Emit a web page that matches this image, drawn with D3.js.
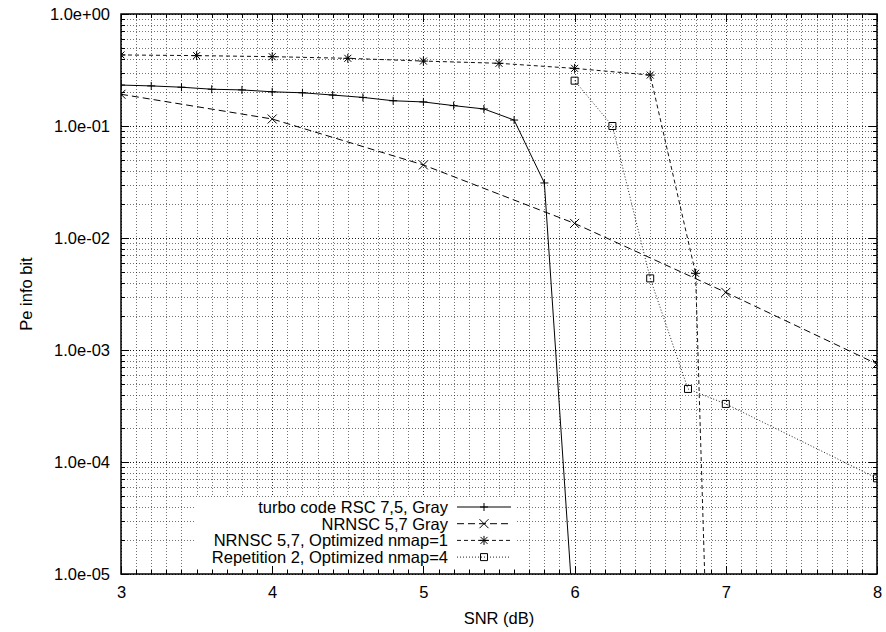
<!DOCTYPE html>
<html><head><meta charset="utf-8">
<script src="https://cdn.jsdelivr.net/npm/d3@7/dist/d3.min.js"></script>
<style>
body{margin:0;background:#fff}
svg{display:block}
text{font-family:"Liberation Sans",Arial,Helvetica,sans-serif;fill:#000}
</style>
</head><body>
<svg id="chart" width="886" height="632"></svg>
<script>
// ---- data ----
const seriesNames = [
  "turbo code RSC 7,5, Gray",
  "NRNSC 5,7 Gray",
  "NRNSC 5,7, Optimized nmap=1",
  "Repetition 2, Optimized nmap=4"
];
const snrTurbo = [3.0,3.2,3.4,3.6,3.8,4.0,4.2,4.4,4.6,4.8,5.0,5.2,5.4,5.6,5.8,6.0];
const peTurbo  = [0.232,0.228,0.222,0.213,0.210,0.202,0.198,0.189,0.180,0.168,0.164,0.152,0.142,0.113,0.031,3e-6];
const snrGray  = [3,4,5,6,7,8];
const peGray   = [0.192,0.1155,0.0449,0.0135,0.00327,0.00075];
const snrOpt1  = [3.0,3.5,4.0,4.5,5.0,5.5,6.0,6.5,6.8,6.9];
const peOpt1   = [0.431,0.425,0.416,0.402,0.380,0.363,0.327,0.285,0.00484,1.7e-7];
const snrRep   = [6.0,6.25,6.5,6.75,7.0,8.0];
const peRep    = [0.254,0.100,0.00436,0.000449,0.00033,0.0000715];
const xTickValues = [3,4,5,6,7,8];
const yTickValues = [1,1e-1,1e-2,1e-3,1e-4,1e-5];
const yTickLabels = ["1.0e+00","1.0e-01","1.0e-02","1.0e-03","1.0e-04","1.0e-05"];
const xTitle = "SNR (dB)";
const yTitle = "Pe info bit";

// ---- layout ----
const L = 121, R = 877, T = 14, B = 574;
const FS = 16.5;
const svg = d3.select("#chart");
const x = d3.scaleLinear().domain([3,8]).range([L,R]);
const y = d3.scaleLog().domain([1e-5,1]).range([B,T]);

const xMinor = d3.range(30,81).map(d=>d/10).filter(v=>Math.abs(v-Math.round(v))>1e-9);
const yMinor = [];
for (let e=-5;e<0;e++) for (let m=2;m<=9;m++) yMinor.push(m*Math.pow(10,e));

const g = svg.append("g");
const grid = g.append("g");
function vline(v, op){
  grid.append("line").attr("x1",Math.round(x(v))+0.5).attr("x2",Math.round(x(v))+0.5)
    .attr("y1",T).attr("y2",B).attr("stroke","#000").attr("stroke-opacity",op)
    .attr("stroke-dasharray","1,2");
}
function hline(v, op){
  grid.append("line").attr("y1",Math.round(y(v))+0.5).attr("y2",Math.round(y(v))+0.5)
    .attr("x1",L).attr("x2",R).attr("stroke","#000").attr("stroke-opacity",op)
    .attr("stroke-dasharray","1,2");
}
xMinor.forEach(v=>vline(v,0.55));
yMinor.forEach(v=>hline(v,0.55));
xTickValues.forEach(v=>vline(v,0.8));
yTickValues.forEach(v=>hline(v,0.9));

// ---- series ----
svg.append("defs").append("clipPath").attr("id","plotclip")
  .append("rect").attr("x",L).attr("y",T).attr("width",R-L).attr("height",B-T);

const markers = {
  plus: "M-4,0H4M0,-4V4",
  cross: "M-4.5,-4.5L4.5,4.5M-4.5,4.5L4.5,-4.5",
  star: "M-4.5,0H4.5M0,-4.5V4.5M-3.5,-3.5L3.5,3.5M-3.5,3.5L3.5,-3.5",
  box: "M-3.5,-3.5H3.5V3.5H-3.5Z"
};
const series = [
  {name:seriesNames[0], xs:snrTurbo, ys:peTurbo, dash:null, marker:"plus", color:"#000"},
  {name:seriesNames[1], xs:snrGray, ys:peGray, dash:"7,4", marker:"cross", color:"#000"},
  {name:seriesNames[2], xs:snrOpt1, ys:peOpt1, dash:"4,3", marker:"star", color:"#111"},
  {name:seriesNames[3], xs:snrRep, ys:peRep, dash:"1,2", marker:"box", color:"#222"}
];
const lineGen = d3.line().x(d=>x(d[0])).y(d=>y(d[1]));
const plotG = g.append("g").attr("clip-path","url(#plotclip)");
series.forEach(s=>{
  const pts = s.xs.map((v,i)=>[v,s.ys[i]]);
  plotG.append("path").datum(pts).attr("d",lineGen).attr("fill","none")
    .attr("stroke",s.color).attr("stroke-width",1)
    .attr("stroke-dasharray",s.dash);
  plotG.selectAll(null).data(pts.filter(p=>p[1]>=1e-5)).enter().append("path")
    .attr("transform",p=>`translate(${x(p[0])},${y(p[1])})`)
    .attr("d",markers[s.marker]).attr("fill","none").attr("stroke","#000").attr("stroke-width",1);
});

// ---- key (opaque) ----
const keyRight = 448, sampleX1 = 457, sampleX2 = 511, keyTop = 507, keyStep = 16.7;
g.append("rect").attr("x",194).attr("y",keyTop-10).attr("width",sampleX2+6-194)
  .attr("height",keyStep*3+22).attr("fill","#fff");
series.forEach((s,i)=>{
  const yy = keyTop + i*keyStep;
  g.append("text").attr("x",keyRight).attr("y",yy+6)
    .attr("text-anchor","end").attr("font-size",FS).text(s.name);
  g.append("line").attr("x1",sampleX1).attr("x2",sampleX2).attr("y1",yy).attr("y2",yy)
    .attr("stroke",s.color).attr("stroke-dasharray",s.dash);
  g.append("path").attr("transform",`translate(${(sampleX1+sampleX2)/2},${yy})`)
    .attr("d",markers[s.marker]).attr("fill","none").attr("stroke","#000");
});

// ---- ticks & border ----
const ax = g.append("g").attr("stroke","#000").attr("stroke-width",1);
function xt(v,len){
  const px = Math.round(x(v))+0.5;
  ax.append("line").attr("x1",px).attr("x2",px).attr("y1",B).attr("y2",B-len);
  ax.append("line").attr("x1",px).attr("x2",px).attr("y1",T).attr("y2",T+len);
}
function yt(v,len){
  const py = Math.round(y(v))+0.5;
  ax.append("line").attr("y1",py).attr("y2",py).attr("x1",L).attr("x2",L+len);
  ax.append("line").attr("y1",py).attr("y2",py).attr("x1",R).attr("x2",R-len);
}
xMinor.forEach(v=>xt(v,4));
yMinor.forEach(v=>yt(v,4));
xTickValues.forEach(v=>xt(v,8));
yTickValues.forEach(v=>yt(v,8));
g.append("rect").attr("x",L).attr("y",T).attr("width",R-L).attr("height",B-T)
  .attr("fill","none").attr("stroke","#000").attr("stroke-width",1.5);

// tick labels via axes
const xAxis = d3.axisBottom(x).tickValues(xTickValues).tickSize(0).tickPadding(0).tickFormat(d3.format("d"));
const xa = svg.append("g").attr("transform",`translate(0,${B})`).call(xAxis);
xa.select(".domain").remove();
xa.selectAll("text").attr("font-size",FS).attr("y",12).attr("dy","0.71em")
  .style("font-family","'Liberation Sans',Arial,sans-serif").attr("fill","#000");

const yAxis = d3.axisLeft(y).tickValues(yTickValues).tickSize(0).tickPadding(0)
  .tickFormat((d,i)=>yTickLabels[i]);
const ya = svg.append("g").attr("transform",`translate(${L},0)`).call(yAxis);
ya.select(".domain").remove();
ya.selectAll("text").attr("font-size",FS).attr("x",-11).attr("dy","0.36em")
  .style("font-family","'Liberation Sans',Arial,sans-serif").attr("fill","#000");

svg.append("text").attr("x",(L+R)/2).attr("y",618).attr("dy","0.36em")
  .attr("text-anchor","middle").attr("font-size",FS).text(xTitle);
svg.append("text").attr("transform",`translate(26,${(T+B)/2}) rotate(-90)`)
  .attr("dy","0.36em").attr("text-anchor","middle").attr("font-size",FS).text(yTitle);
</script>
</body></html>
